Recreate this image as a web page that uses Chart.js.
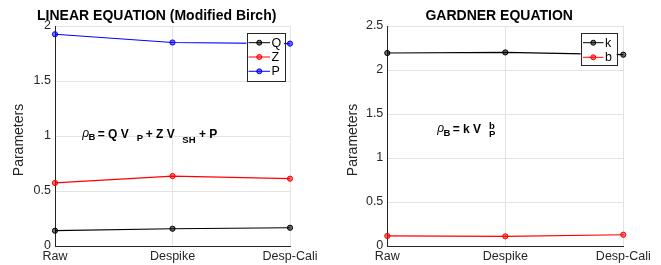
<!DOCTYPE html>
<html>
<head>
<meta charset="utf-8">
<script src="https://cdn.jsdelivr.net/npm/chart.js@4/dist/chart.umd.min.js"></script>
<style>
  body { margin: 0; background: #fff; }
  .panel { position: absolute; top: 0; }
</style>
</head>
<body>
<div class="panel" style="left:0"><canvas id="linChart" width="330" height="265"></canvas></div>
<div class="panel" style="left:330px"><canvas id="gardChart" width="331" height="265"></canvas></div>
<script>
// Data
var categories = ['Raw', 'Despike', 'Desp-Cali'];
var linQ = [0.139, 0.157, 0.166];
var linZ = [0.573, 0.636, 0.612];
var linP = [1.925, 1.850, 1.840];
var gardK = [2.193, 2.200, 2.174];
var gardB = [0.114, 0.110, 0.128];
var linTicks = [0, 0.5, 1, 1.5, 2];
var gardTicks = [0, 0.5, 1, 1.5, 2, 2.5];

var FONT = "'Liberation Sans', Arial, Helvetica, sans-serif";
var AXIS = '#262626';
var GRID = '#e3e3e3';

// draws titles, y label, equation text and the boxed legend
var decorPlugin = {
    id: 'decor',
    afterDatasetsDraw: function(chart, args, opts) {
        var ctx = chart.ctx;
        var lg = opts.legend;
        ctx.save();
        ctx.fillStyle = '#fff';
        ctx.fillRect(lg.left, lg.top, lg.right - lg.left, lg.bottom - lg.top);
        ctx.strokeStyle = AXIS;
        ctx.lineWidth = 1;
        ctx.strokeRect(Math.round(lg.left) + 0.5, Math.round(lg.top) + 0.5,
            Math.round(lg.right - lg.left), Math.round(lg.bottom - lg.top));
        chart.data.datasets.forEach(function(ds, i) {
            var y = lg.top + lg.first + i * lg.step;
            ctx.strokeStyle = ds.borderColor;
            ctx.beginPath();
            ctx.moveTo(lg.lineX0, y);
            ctx.lineTo(lg.lineX1, y);
            ctx.stroke();
            ctx.beginPath();
            ctx.arc((lg.lineX0 + lg.lineX1) / 2, y, 2.5, 0, Math.PI * 2);
            ctx.fillStyle = ds.pointBackgroundColor;
            ctx.fill();
            ctx.stroke();
            ctx.fillStyle = '#000';
            ctx.font = '12.5px ' + FONT;
            ctx.textAlign = 'left';
            ctx.textBaseline = 'middle';
            ctx.fillText(ds.label, lg.lineX1 + 1.5, y + 0.5);
        });
        ctx.restore();
    },
    afterDraw: function(chart, args, opts) {
        var ctx = chart.ctx;
        ctx.save();
        ctx.fillStyle = '#000';
        ctx.textAlign = 'center';
        ctx.textBaseline = 'alphabetic';
        ctx.font = 'bold 14px ' + FONT;
        ctx.fillText(opts.title, opts.titleX, 20);

        ctx.fillStyle = AXIS;
        ctx.font = '14px ' + FONT;
        ctx.translate(opts.ylabelX, 140);
        ctx.rotate(-Math.PI / 2);
        ctx.textBaseline = 'middle';
        ctx.fillText('Parameters', 0, 0);
        ctx.restore();

        ctx.save();
        ctx.fillStyle = '#000';
        ctx.textAlign = 'left';
        ctx.textBaseline = 'alphabetic';
        opts.equation.forEach(function(p) {
            ctx.font = p.f + ' ' + FONT;
            ctx.fillText(p.t, p.x, p.y);
        });
        ctx.restore();
    }
};

function makeChart(id, sets, yTicks, yWidth, padRight, decor) {
    var colors = { Q: '#000000', Z: '#ff0000', P: '#0000ff', k: '#000000', b: '#ff0000' };
    var fills = { Q: 'rgba(0,0,0,0.55)', Z: 'rgba(255,0,0,0.55)', P: 'rgba(0,0,255,0.55)',
                  k: 'rgba(0,0,0,0.55)', b: 'rgba(255,0,0,0.55)' };
    var datasets = sets.map(function(s) {
        return {
            label: s.label,
            data: s.data,
            borderColor: colors[s.label],
            backgroundColor: colors[s.label],
            pointBackgroundColor: fills[s.label],
            pointBorderColor: colors[s.label],
            borderWidth: 1.2,
            pointRadius: 2.6,
            pointBorderWidth: 1,
            tension: 0,
            clip: false
        };
    });
    return new Chart(document.getElementById(id), {
        type: 'line',
        data: { labels: categories, datasets: datasets },
        plugins: [decorPlugin],
        options: {
            responsive: false,
            animation: false,
            devicePixelRatio: 1,
            layout: { padding: { top: 26, right: padRight, bottom: 0, left: 0 } },
            plugins: {
                legend: { display: false },
                title: { display: false },
                tooltip: { enabled: false },
                decor: decor
            },
            scales: {
                x: {
                    offset: false,
                    grid: { color: GRID, drawTicks: false },
                    border: { color: AXIS, width: 1 },
                    ticks: { color: AXIS, font: { family: FONT, size: 12.5 }, padding: 3, maxRotation: 0 },
                    afterFit: function(scale) { scale.height = 19; }
                },
                y: {
                    min: yTicks[0],
                    max: yTicks[yTicks.length - 1],
                    afterBuildTicks: function(scale) {
                        scale.ticks = yTicks.map(function(v) { return { value: v }; });
                    },
                    grid: { color: GRID, drawTicks: false },
                    border: { color: AXIS, width: 1 },
                    ticks: {
                        color: AXIS,
                        font: { family: FONT, size: 12.5 },
                        padding: 4,
                        callback: function(v) { return String(v); }
                    },
                    afterFit: function(scale) { scale.width = yWidth; }
                }
            }
        }
    });
}

makeChart('linChart',
    [{ label: 'Q', data: linQ }, { label: 'Z', data: linZ }, { label: 'P', data: linP }],
    linTicks, 55, 40,
    {
        title: 'LINEAR EQUATION (Modified Birch)',
        titleX: 156.7,
        ylabelX: 19,
        legend: { left: 246.5, right: 284, top: 32.5, bottom: 80, first: 10.2, step: 14.3, lineX0: 248.5, lineX1: 270 },
        equation: [
            { t: '\u03c1', x: 82.3, y: 137, f: 'italic 12px' },
            { t: 'B', x: 88.6, y: 139.5, f: 'bold 9.5px' },
            { t: '= Q V', x: 97.7, y: 138, f: 'bold 12px' },
            { t: 'P', x: 136.7, y: 140.7, f: 'bold 9.5px' },
            { t: '+ Z V', x: 145.7, y: 138, f: 'bold 12px' },
            { t: 'SH', x: 182.3, y: 143, f: 'bold 9.5px' },
            { t: '+ P', x: 199, y: 138, f: 'bold 12px' }
        ]
    });

makeChart('gardChart',
    [{ label: 'k', data: gardK }, { label: 'b', data: gardB }],
    gardTicks, 57.3, 37.7,
    {
        title: 'GARDNER EQUATION',
        titleX: 169.2,
        ylabelX: 22.7,
        legend: { left: 250.7, right: 286.7, top: 33.3, bottom: 65.3, first: 9.4, step: 14.6, lineX0: 253, lineX1: 273.5 },
        equation: [
            { t: '\u03c1', x: 107.3, y: 132.3, f: 'italic 12px' },
            { t: 'B', x: 113.5, y: 135.7, f: 'bold 9.5px' },
            { t: '= k V', x: 122.7, y: 133.3, f: 'bold 12px' },
            { t: 'b', x: 159, y: 129, f: 'bold 9.5px' },
            { t: 'P', x: 159, y: 137.3, f: 'bold 9.5px' }
        ]
    });
</script>
</body>
</html>
